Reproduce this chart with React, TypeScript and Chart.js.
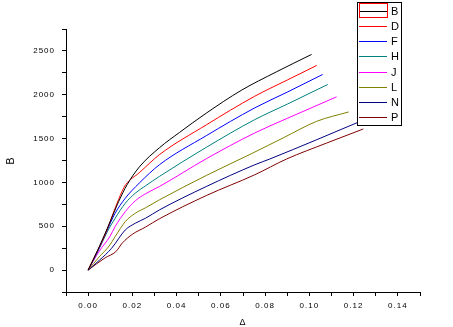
import React, { useEffect, useRef } from "react";
import { Chart, registerables } from "chart.js";

Chart.register(...registerables);

// ---- data ----
const seriesLabels = ["B", "D", "F", "H", "J", "L", "N", "P"];
const seriesColors = ["#000000", "#FF0000", "#0000FF", "#008080", "#FF00FF", "#808000", "#000080", "#800000"];

const xB = [0, 0.005, 0.0095, 0.0138, 0.0176, 0.0231, 0.0322, 0.0413, 0.0534, 0.0692, 0.085, 0.101];
const yB = [0, 265, 525, 782, 973, 1175, 1395, 1570, 1790, 2050, 2260, 2460];

const xD = [0, 0.005, 0.0076, 0.0122, 0.0153, 0.017, 0.0231, 0.0322, 0.0534, 0.0753, 0.09, 0.1033];
const yD = [0, 260, 400, 706, 896, 975, 1110, 1316, 1656, 1983, 2168, 2334];

const xF = [0, 0.005, 0.0083, 0.0122, 0.0168, 0.0231, 0.0322, 0.0534, 0.0753, 0.09, 0.106];
const yF = [0, 250, 438, 648, 820, 992, 1201, 1533, 1850, 2030, 2231];

const xH = [0, 0.005, 0.0091, 0.0122, 0.0168, 0.0213, 0.0259, 0.0322, 0.0534, 0.0753, 0.09, 0.1083];
const yH = [0, 245, 458, 591, 763, 877, 960, 1068, 1400, 1716, 1893, 2117];

const xJ = [0, 0.005, 0.0098, 0.0122, 0.0168, 0.0213, 0.0259, 0.0322, 0.0534, 0.0753, 0.09, 0.1123];
const yJ = [0, 215, 381, 496, 667, 790, 870, 953, 1270, 1564, 1731, 1976];

const xL = [0, 0.005, 0.0095, 0.0122, 0.0168, 0.0213, 0.0259, 0.0322, 0.0534, 0.074, 0.0881, 0.1033, 0.1178];
const yL = [0, 150, 275, 381, 553, 648, 710, 801, 1079, 1330, 1507, 1697, 1804];

const xN = [0, 0.005, 0.0106, 0.0168, 0.0213, 0.0259, 0.0322, 0.0534, 0.0753, 0.0821, 0.1033, 0.1238];
const yN = [0, 110, 248, 458, 534, 591, 686, 953, 1201, 1267, 1487, 1705];

const xP = [0, 0.0077, 0.0125, 0.0155, 0.0201, 0.0259, 0.0322, 0.0534, 0.0753, 0.0897, 0.1078, 0.1244];
const yP = [0, 140, 210, 310, 410, 490, 585, 850, 1087, 1267, 1449, 1610];

const seriesX = [xB, xD, xF, xH, xJ, xL, xN, xP];
const seriesY = [yB, yD, yF, yH, yJ, yL, yN, yP];

const xMin = -0.01;
const xMax = 0.15;
const xStep = 0.01;
const yMin = -250;
const yMax = 2750;
const yStep = 250;
const xTitle = "Δ";
const yTitle = "B";

const FONT = "'Liberation Sans', Arial, sans-serif";

const spacingPlugin = {
  id: "letterSpacing",
  beforeUpdate(chart: any) {
    (chart.ctx as any).letterSpacing = "1px";
  },
  beforeDraw(chart: any) {
    (chart.ctx as any).letterSpacing = "1px";
  },
};

const boxLegend = {
  id: "boxLegend",
  afterDraw(chart: any) {
    const ctx = chart.ctx as CanvasRenderingContext2D;
    ctx.save();
    (ctx as any).letterSpacing = "0px";
    const left = 357.5, top = 2.5, w = 44, h = 123;
    ctx.fillStyle = "#FFFFFF";
    ctx.fillRect(left, top, w, h);
    ctx.strokeStyle = "#000000";
    ctx.lineWidth = 1;
    ctx.strokeRect(left, top, w, h);
    ctx.font = "11px " + FONT;
    ctx.textBaseline = "middle";
    ctx.textAlign = "left";
    chart.data.datasets.forEach((ds: any, i: number) => {
      const y = Math.round(10.5 + i * 15.25) + 0.5;
      ctx.strokeStyle = ds.borderColor;
      ctx.beginPath();
      ctx.moveTo(359, y);
      ctx.lineTo(387, y);
      ctx.stroke();
      ctx.fillStyle = "#000000";
      ctx.fillText(ds.label, 391, y + 0.5);
    });
    ctx.strokeStyle = "#FF0000";
    ctx.strokeRect(359.5, 3.5, 28, 14);
    ctx.restore();
  },
};

export default function App() {
  const ref = useRef<HTMLCanvasElement | null>(null);

  useEffect(() => {
    document.body.style.margin = "0";
    const canvas = ref.current;
    if (!canvas) return;
    const datasets = seriesLabels.map((label, i) => ({
      label,
      data: seriesX[i].map((x, j) => ({ x, y: seriesY[i][j] })),
      borderColor: seriesColors[i],
      backgroundColor: seriesColors[i],
      borderWidth: 1,
      showLine: true,
      pointRadius: 0,
      fill: false,
      cubicInterpolationMode: "monotone",
    }));
    const chart = new Chart(canvas, {
      type: "scatter",
      data: { datasets },
      plugins: [spacingPlugin, boxLegend],
      options: {
        animation: false,
        responsive: false,
        devicePixelRatio: 1,
        layout: { padding: { left: 0, right: 33, top: 29, bottom: 0 } },
        plugins: { legend: { display: false }, tooltip: { enabled: false } },
        scales: {
          x: {
            type: "linear",
            position: "bottom",
            min: xMin,
            max: xMax,
            afterFit: (s: any) => {
              s.height = 35;
            },
            border: { display: true, color: "#000000", width: 1 },
            grid: { display: true, drawOnChartArea: false, drawTicks: true, tickLength: 4, color: "#000000", tickColor: "#000000" },
            ticks: {
              stepSize: xStep,
              autoSkip: false,
              maxRotation: 0,
              minRotation: 0,
              padding: 5,
              color: "#000000",
              font: { family: FONT, size: 8 },
              callback: (v: any) => {
                const idx = Math.round(Number(v) * 100);
                return idx >= 0 && idx <= 14 && idx % 2 === 0 ? (idx / 100).toFixed(2) : "";
              },
            },
            title: { display: true, text: xTitle, color: "#000000", font: { family: FONT, size: 9, lineHeight: 1 }, padding: { top: 0, bottom: 0 } },
          },
          y: {
            type: "linear",
            position: "left",
            min: yMin,
            max: yMax,
            afterFit: (s: any) => {
              s.width = 66;
            },
            border: { display: true, color: "#000000", width: 1 },
            grid: { display: true, drawOnChartArea: false, drawTicks: true, tickLength: 4, color: "#000000", tickColor: "#000000" },
            ticks: {
              stepSize: yStep,
              autoSkip: false,
              padding: 7,
              color: "#000000",
              font: { family: FONT, size: 8 },
              callback: (v: any) => {
                const n = Math.round(Number(v));
                return n >= 0 && n % 500 === 0 ? String(n) : "";
              },
            },
            title: { display: true, text: yTitle, color: "#000000", font: { family: FONT, size: 11 }, padding: { top: 4, bottom: 0 } },
          },
        },
      } as any,
    });
    return () => chart.destroy();
  }, []);

  return <canvas ref={ref} width={453} height={327} style={{ display: "block" }} />;
}
